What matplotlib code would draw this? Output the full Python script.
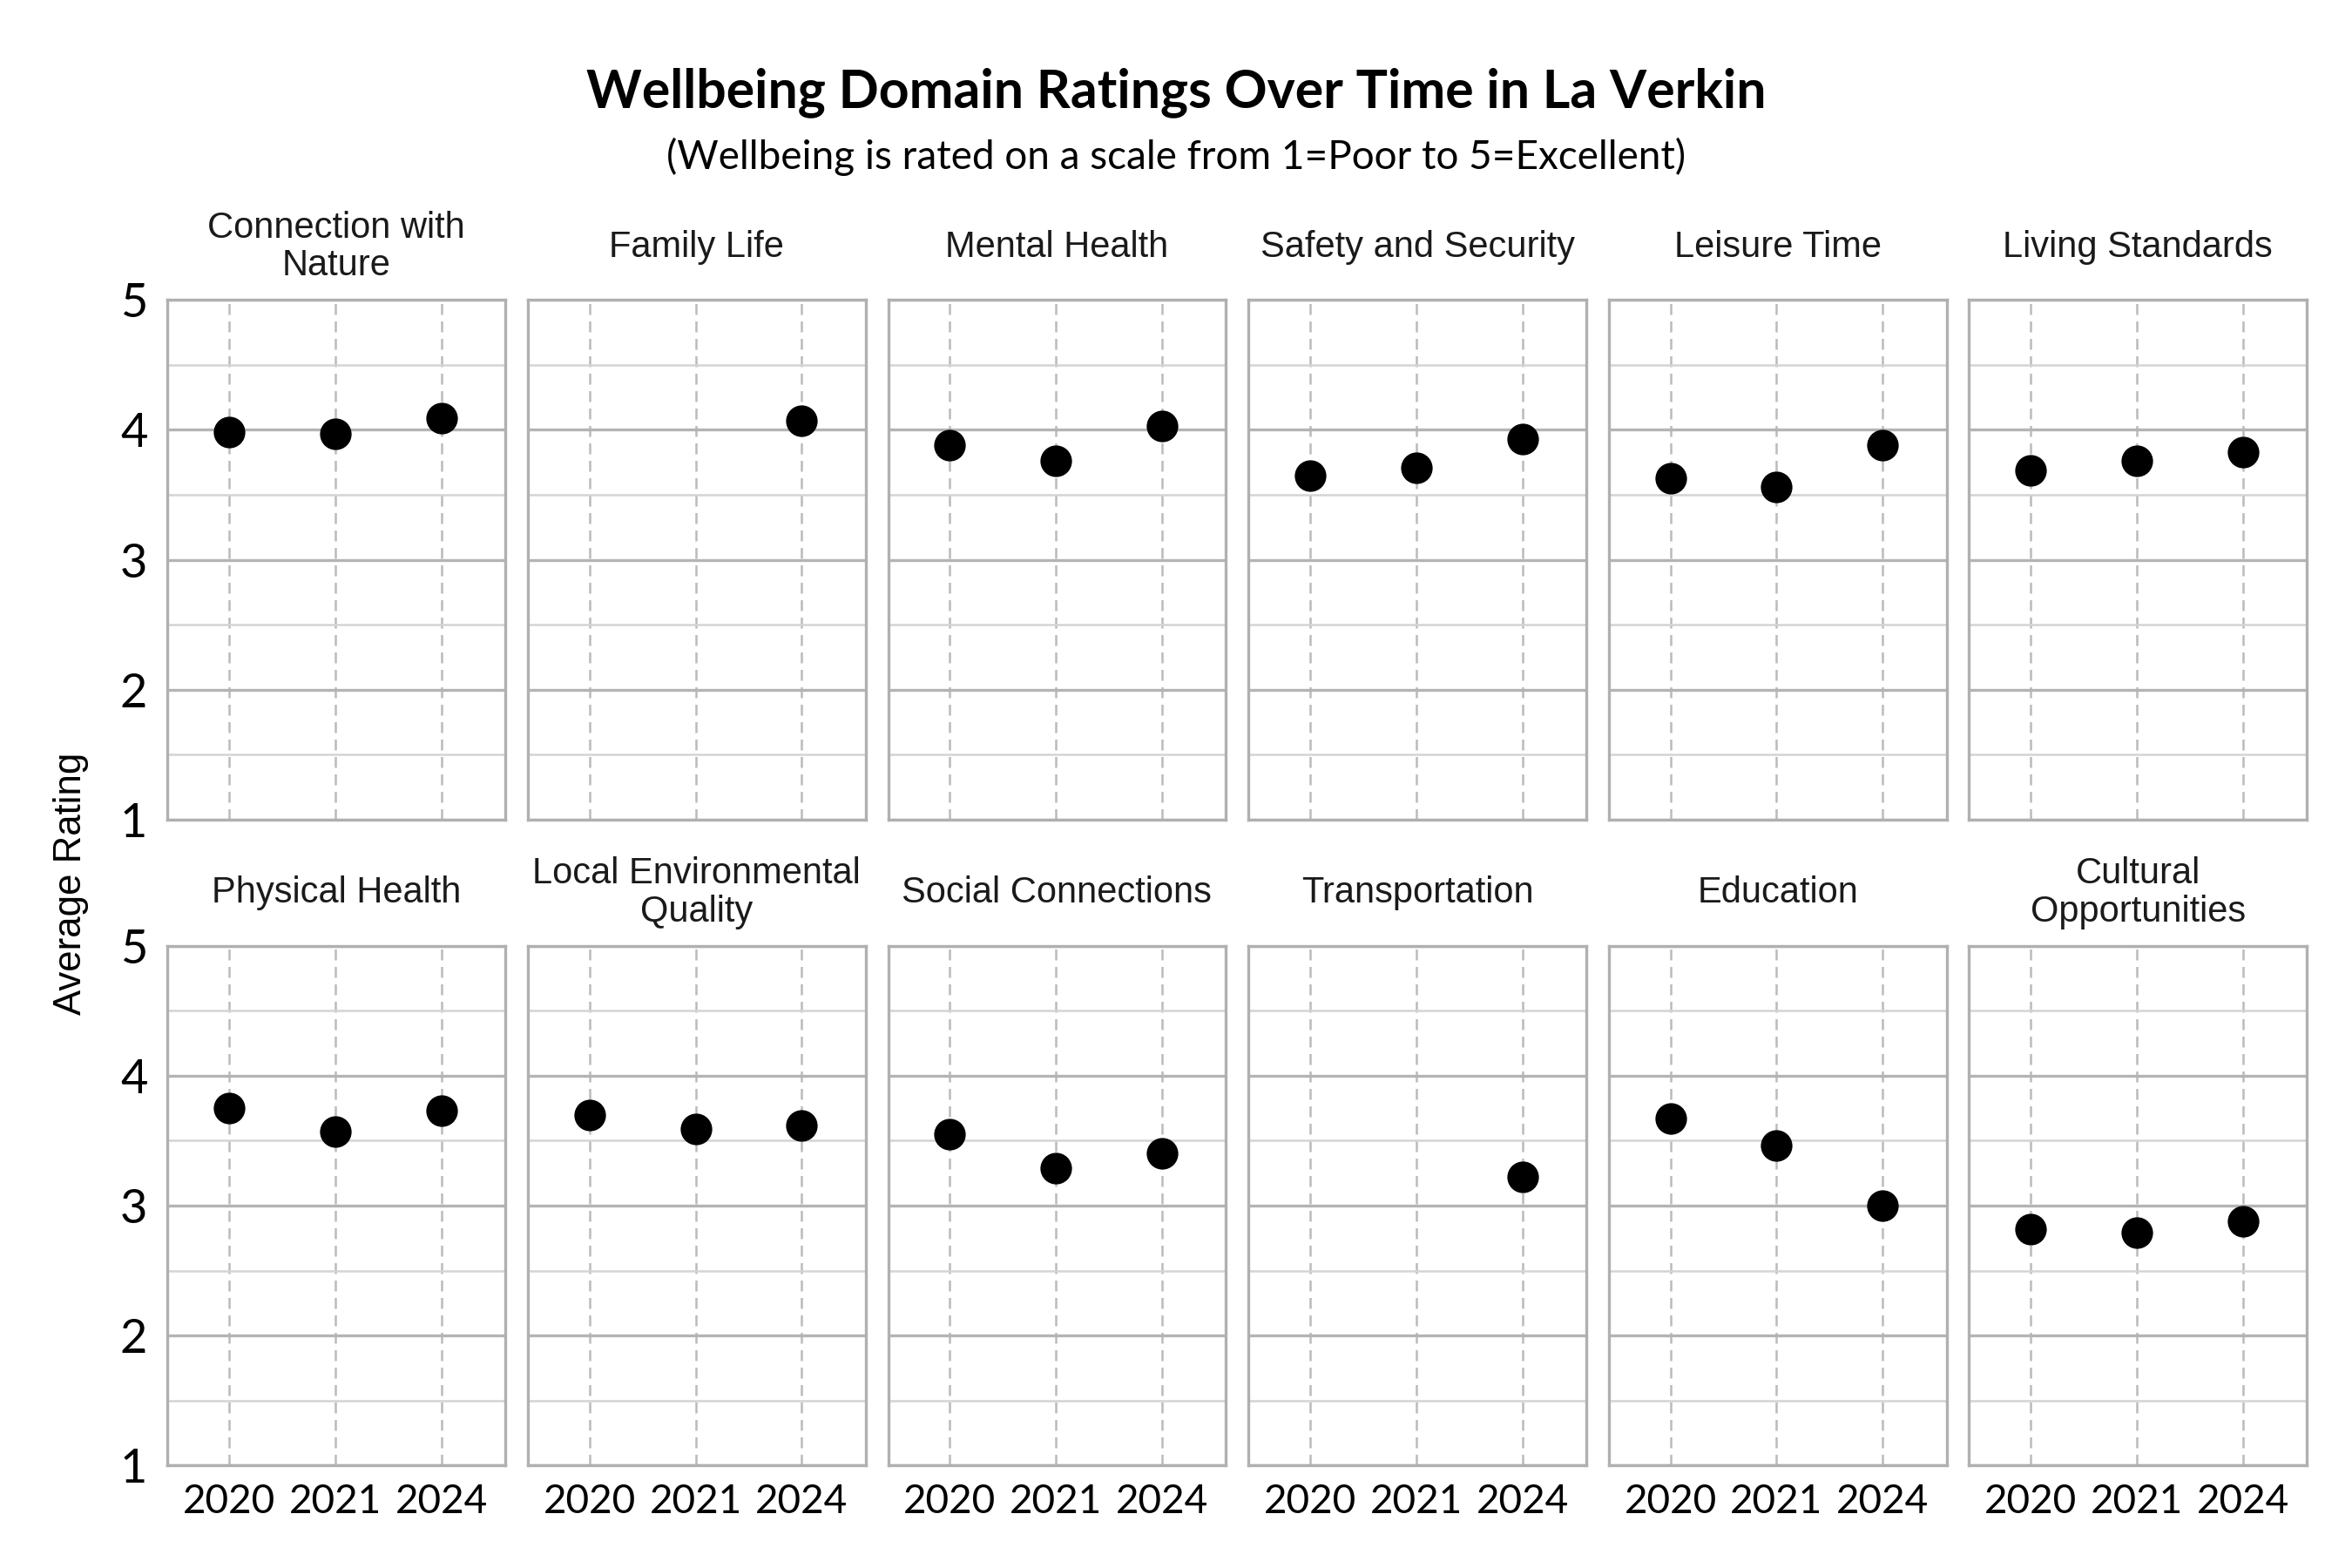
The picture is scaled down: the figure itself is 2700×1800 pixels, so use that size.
import numpy as np
import matplotlib
matplotlib.use("Agg")
import matplotlib.pyplot as plt

years = ["2020", "2021", "2024"]
domains_top = ["Connection with\nNature", "Family Life", "Mental Health",
               "Safety and Security", "Leisure Time", "Living Standards"]
domains_bottom = ["Physical Health", "Local Environmental\nQuality", "Social Connections",
                  "Transportation", "Education", "Cultural\nOpportunities"]

connection_nature = [3.98, 3.97, 4.09]
family_life = [np.nan, np.nan, 4.07]
mental_health = [3.88, 3.76, 4.03]
safety_security = [3.65, 3.71, 3.93]
leisure_time = [3.63, 3.56, 3.88]
living_standards = [3.69, 3.76, 3.83]
physical_health = [3.75, 3.57, 3.73]
local_environment = [3.70, 3.59, 3.62]
social_connections = [3.55, 3.29, 3.40]
transportation = [np.nan, np.nan, 3.22]
education = [3.67, 3.46, 3.00]
cultural_opportunities = [2.82, 2.79, 2.88]

values_top = [connection_nature, family_life, mental_health,
              safety_security, leisure_time, living_standards]
values_bottom = [physical_health, local_environment, social_connections,
                 transportation, education, cultural_opportunities]

title = "Wellbeing Domain Ratings Over Time in La Verkin"
subtitle = "(Wellbeing is rated on a scale from 1=Poor to 5=Excellent)"
ylabel = "Average Rating"

CAL = ["Lato", "DejaVu Sans"]
ARI = ["Liberation Sans", "DejaVu Sans"]

fig, axes = plt.subplots(2, 6, figsize=(9, 6), dpi=300, sharey=True)
fig.subplots_adjust(left=0.0712, right=0.9808, top=0.8087, bottom=0.0654,
                    wspace=0.067, hspace=0.243)

x = np.arange(len(years))
rows = [(domains_top, values_top), (domains_bottom, values_bottom)]
for r, (names, vals) in enumerate(rows):
    for c in range(6):
        ax = axes[r, c]
        ax.set_xlim(-0.58, 2.6)
        ax.set_ylim(1, 5)
        ax.set_yticks([1, 2, 3, 4, 5])
        ax.set_yticks([1.5, 2.5, 3.5, 4.5], minor=True)
        ax.set_xticks(x)
        ax.grid(axis="y", which="major", color="#b4b4b4", linewidth=0.8)
        ax.grid(axis="y", which="minor", color="#d4d4d4", linewidth=0.6)
        ax.grid(axis="x", which="major", color="#bbbbbb", linewidth=0.6,
                linestyle=(0, (5, 3)))
        ax.set_axisbelow(True)
        for s in ax.spines.values():
            s.set_color("#b0b0b0")
            s.set_linewidth(0.8)
        ax.tick_params(axis="both", which="both", length=0)
        ax.tick_params(axis="y", pad=5.5)
        ax.tick_params(axis="x", pad=5)
        if r == 1:
            ax.set_xticklabels(years, fontfamily=CAL, fontsize=11)
        else:
            ax.set_xticklabels([])
        if c == 0:
            for lab in ax.get_yticklabels():
                lab.set_fontfamily(CAL)
                lab.set_fontsize(13)
        ax.plot(x, vals[c], linestyle="none", marker="o", markersize=7.7,
                color="black")
        ax.annotate(names[c], xy=(0.5, 1.0), xycoords="axes fraction",
                    xytext=(0, 14.6), textcoords="offset points",
                    ha="center", va="center", fontsize=10, fontfamily=ARI,
                    color="#1a1a1a", linespacing=1.1)

fig.text(0.5, 0.941, title, ha="center", va="center", fontsize=14.6,
         fontweight="bold", fontfamily=CAL)
fig.text(0.5, 0.900, subtitle, ha="center", va="center", fontsize=11,
         fontfamily=CAL)
fig.text(0.0301, 0.4365, ylabel, ha="center", va="center", rotation=90,
         fontsize=10.5, fontfamily=ARI)

fig.savefig("out.png", dpi=300, facecolor="white")
